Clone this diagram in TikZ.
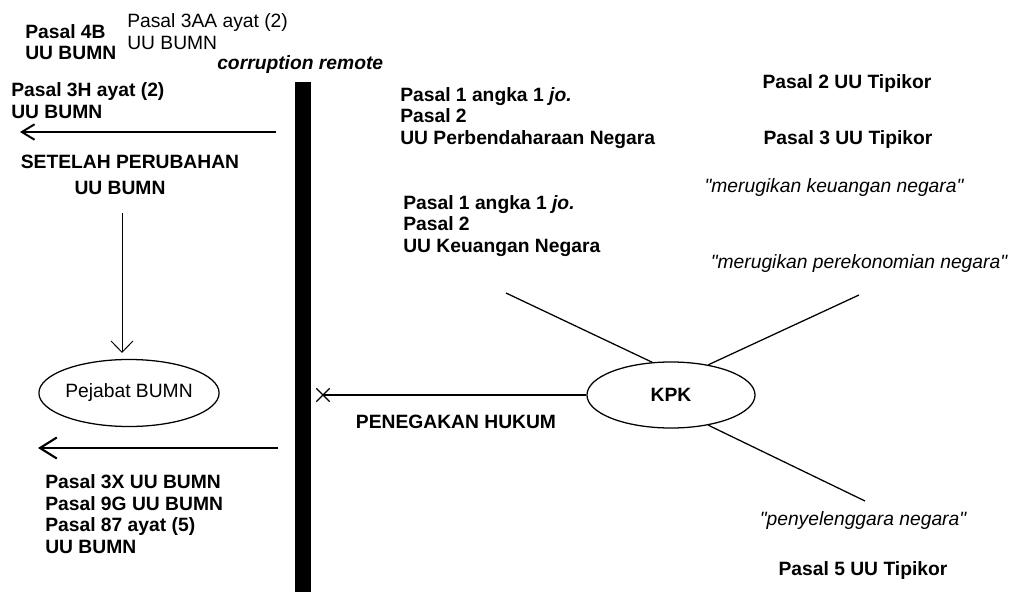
\documentclass[tikz,border=0pt]{standalone}
\usepackage{fontspec}
\setmainfont{Liberation Sans}[Ligatures=TeXOff]
\usetikzlibrary{arrows.meta,shapes.misc,shapes.geometric}

\begin{document}
\begin{tikzpicture}[x=0.025cm,y=-0.025cm]
			\tikzstyle{plain_text}=[inner sep=0pt,align=left,font=\fontsize{13.7}{15.2}\selectfont]
			\tikzstyle{bold_text}=[plain_text,font=\fontsize{13.7}{15.2}\selectfont\bfseries]
			\tikzstyle{ital_text}=[plain_text,font=\fontsize{13.7}{15.2}\selectfont\itshape]
			\tikzstyle{oval_node}=[draw,ellipse,line width=0.9pt,inner sep=0pt]
			\useasboundingbox (0,0) rectangle (1009,592);
			% left side
			\node [bold_text,anchor=base west] (p4b) at (25,60) {Pasal 4B\\UU BUMN};
			\node [plain_text,anchor=base west] (p3aa) at (127,49) {Pasal 3AA ayat (2)\\UU BUMN};
			\node [bold_text,anchor=base west] (remote) at (217,69) {\itshape corruption remote};
			\node [bold_text,anchor=base west] (p3h) at (11,118) {Pasal 3H ayat (2)\\UU BUMN};
			\node [bold_text,anchor=base] (setelah) at (130,168) {SETELAH PERUBAHAN};
			\node [bold_text,anchor=base] (uubumn) at (120,194) {UU BUMN};
			\node [oval_node,minimum width=4.175cm,minimum height=1.675cm,plain_text] (pejabat) at (129,393) {Pejabat BUMN};
			\node [bold_text,anchor=base west] (p3x) at (45,553) {Pasal 3X UU BUMN\\Pasal 9G UU BUMN\\Pasal 87 ayat (5)\\UU BUMN};
			\coordinate (a1s) at (276,132);
			\coordinate (a1e) at (20,132);
			\coordinate (vs) at (122,213);
			\coordinate (ve) at (122,353);
			\coordinate (a2s) at (278,448);
			\coordinate (a2e) at (38,448);
			\draw [line width=1.4pt,-{Straight Barb[length=9pt,width=11pt]}] (a1s) -- (a1e);
			\draw [line width=0.7pt,-{Straight Barb[length=8pt,width=15.5pt]}] (vs) -- (ve);
			\draw [line width=1.5pt,-{Straight Barb[length=12pt,width=15pt]}] (a2s) -- (a2e);
			% the wall
			\fill (295,82) rectangle (311,592);
			% right side
			\node [bold_text,anchor=base west] (perbend) at (400,144) {Pasal 1 angka 1 \textit{jo.}\\Pasal 2\\UU Perbendaharaan Negara};
			\node [bold_text,anchor=base west] (keuneg) at (403,252) {Pasal 1 angka 1 \textit{jo.}\\Pasal 2\\UU Keuangan Negara};
			\node [bold_text,anchor=base] (tip2) at (847,89) {Pasal 2 UU Tipikor};
			\node [bold_text,anchor=base] (tip3) at (848,144) {Pasal 3 UU Tipikor};
			\node [ital_text,anchor=base] (rugi1) at (834,192) {"merugikan keuangan negara"};
			\node [ital_text,anchor=base] (rugi2) at (859,268) {"merugikan perekonomian negara"};
			\node [ital_text,anchor=base] (penyel) at (863,525) {"penyelenggara negara"};
			\node [bold_text,anchor=base] (tip5) at (863,575) {Pasal 5 UU Tipikor};
			\node [oval_node,minimum width=4.2cm,minimum height=1.65cm,bold_text] (kpk) at (671,395) {KPK};
			\node [draw,cross out,line width=0.9pt,minimum size=0.3cm,inner sep=0pt] (xm) at (323,395) {};
			\node [bold_text,anchor=base] (penegak) at (456,428) {PENEGAKAN HUKUM};
			\coordinate (s1) at (506,293);
			\coordinate (s2) at (859,295);
			\coordinate (s3) at (865,501);
			\draw [line width=0.9pt] (kpk) -- (xm.center);
			\draw [line width=0.9pt] (kpk.120) -- (s1);
			\draw [line width=0.9pt] (kpk.39) -- (s2);
			\draw [line width=0.9pt] (kpk.-39) -- (s3);
		\end{tikzpicture}
\end{document}
